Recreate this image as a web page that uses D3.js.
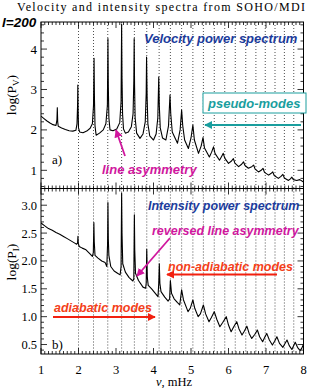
<!DOCTYPE html>
<html>
<head>
<meta charset="utf-8">
<script src="https://cdn.jsdelivr.net/npm/d3@7"></script>
<style>
  body { margin: 0; background: #fff; }
  svg { display: block; }
</style>
</head>
<body>
<div id="chart"></div>
<script>
// mode frequencies (dotted guide lines), mHz
const modeFreqs = [2.0, 2.40, 2.78, 3.15, 3.49, 3.82, 4.15, 4.45, 4.75, 5.05, 5.33, 5.62, 5.90, 6.18, 6.46, 6.73, 6.98, 7.24, 7.49, 7.74];

// velocity spectrum log(Pv)
const velocity = [
  [1.00,2.34],[1.08,2.28],[1.16,2.22],[1.24,2.17],[1.32,2.13],[1.40,2.11],[1.425,2.25],[1.435,2.55],[1.445,2.2],[1.46,2.09],
  [1.55,2.05],[1.65,2.01],[1.75,1.98],[1.85,1.97],[1.93,1.99],[1.96,2.15],[1.975,2.6],[1.982,3.11],[1.99,2.5],[2.00,2.05],
  [2.03,1.95],[2.12,1.93],[2.22,1.97],[2.31,2.04],[2.37,2.15],[2.40,2.6],[2.415,3.77],[2.425,2.8],[2.44,2.1],[2.47,1.87],
  [2.56,1.92],[2.66,2.0],[2.73,2.15],[2.77,2.6],[2.785,4.26],[2.795,3.1],[2.81,2.3],[2.84,2.0],[2.92,1.98],[3.02,2.02],
  [3.10,2.18],[3.135,2.7],[3.15,4.62],[3.16,3.3],[3.175,2.4],[3.20,2.02],[3.25,1.92],[3.33,1.95],[3.41,2.08],[3.455,2.4],
  [3.475,3.2],[3.485,4.26],[3.495,3.1],[3.51,2.3],[3.55,1.92],[3.64,1.79],[3.72,1.9],[3.78,2.2],[3.805,2.9],[3.815,3.80],
  [3.83,2.8],[3.85,2.15],[3.90,1.85],[4.00,1.75],[4.07,1.9],[4.115,2.3],[4.14,3.31],[4.155,2.6],[4.18,2.05],[4.24,1.8],
  [4.33,1.75],[4.40,2.1],[4.44,2.86],[4.46,2.4],[4.50,1.95],[4.64,1.67],[4.71,2.0],[4.75,2.49],[4.78,2.1],[4.83,1.75],
  [4.93,1.54],[5.00,1.8],[5.05,2.12],[5.09,1.75],[5.20,1.42],[5.27,1.6],[5.32,1.81],[5.36,1.55],[5.49,1.33],[5.55,1.45],
  [5.60,1.58],[5.64,1.42],[5.76,1.25],[5.82,1.35],[5.86,1.42],[5.90,1.3],[6.00,1.17],[6.08,1.23],[6.13,1.29],[6.17,1.18],
  [6.27,1.09],[6.35,1.15],[6.40,1.21],[6.44,1.12],[6.53,1.05],[6.62,1.09],[6.67,1.13],[6.71,1.03],[6.80,0.96],[6.87,1.0],
  [6.92,1.05],[6.96,0.95],[7.07,0.88],[7.13,0.92],[7.18,0.96],[7.22,0.87],[7.33,0.80],[7.40,0.85],[7.45,0.90],[7.49,0.81],
  [7.60,0.75],[7.65,0.79],[7.69,0.83],[7.73,0.77],[7.82,0.75],[7.90,0.77],[8.00,0.71]
];

// intensity spectrum log(PI)
const intensity = [
  [1.00,2.68],[1.10,2.63],[1.20,2.58],[1.30,2.55],[1.40,2.51],[1.50,2.48],[1.60,2.44],[1.70,2.40],[1.80,2.36],[1.90,2.32],
  [1.95,2.30],[1.975,2.32],[1.985,2.44],[1.995,2.31],[2.02,2.26],[2.10,2.23],[2.20,2.20],[2.30,2.13],[2.37,2.08],[2.395,2.15],
  [2.41,2.69],[2.42,2.35],[2.44,2.10],[2.52,2.05],[2.62,2.00],[2.71,1.97],[2.755,1.90],[2.775,2.3],[2.785,3.05],[2.795,2.4],
  [2.81,2.10],[2.86,1.90],[2.95,1.82],[3.04,1.78],[3.11,1.75],[3.135,1.9],[3.15,3.22],[3.16,2.5],[3.18,1.95],[3.25,1.80],
  [3.35,1.70],[3.45,1.64],[3.475,1.68],[3.49,2.83],[3.50,2.2],[3.52,1.78],[3.60,1.65],[3.72,1.53],[3.79,1.51],[3.805,1.6],
  [3.82,2.21],[3.835,1.7],[3.86,1.56],[3.95,1.50],[4.07,1.40],[4.12,1.36],[4.14,1.6],[4.155,1.95],[4.17,1.6],[4.20,1.45],
  [4.30,1.35],[4.39,1.28],[4.43,1.32],[4.45,1.65],[4.48,1.42],[4.55,1.32],[4.64,1.25],[4.70,1.21],[4.75,1.48],[4.80,1.3],
  [4.92,1.09],[4.98,1.15],[5.05,1.30],[5.10,1.15],[5.19,1.00],[5.25,1.05],[5.33,1.21],[5.39,1.05],[5.48,0.91],[5.54,0.98],
  [5.62,1.09],[5.69,0.95],[5.77,0.82],[5.85,0.9],[5.94,1.00],[6.00,0.85],[6.07,0.73],[6.14,0.82],[6.22,0.91],[6.28,0.78],
  [6.36,0.67],[6.42,0.74],[6.49,0.83],[6.55,0.70],[6.62,0.61],[6.70,0.68],[6.77,0.76],[6.83,0.64],[6.91,0.55],[6.96,0.62],
  [7.02,0.70],[7.09,0.58],[7.17,0.49],[7.23,0.56],[7.29,0.64],[7.36,0.52],[7.45,0.45],[7.50,0.51],[7.56,0.58],[7.62,0.48],
  [7.69,0.41],[7.73,0.47],[7.78,0.54],[7.84,0.45],[7.91,0.39],[7.96,0.44],[8.00,0.51]
];

const xTickLabels = [1, 2, 3, 4, 5, 6, 7, 8];
const velTickLabels = [1, 2, 3, 4];
const intTickLabels = [0.5, 1.0, 1.5, 2.0, 2.5, 3.0];

const width = 309, height = 388;
const left = 41, right = 303.5;
const top1 = 22, mid = 188.5, bot2 = 354;

const svg = d3.select("#chart").append("svg")
  .attr("width", width).attr("height", height);

const x = d3.scaleLinear().domain([1, 8]).range([left, right]);
const yV = d3.scaleLinear().domain([0.55, 4.67]).range([mid, top1]);
const yI = d3.scaleLinear().domain([0.33, 3.3]).range([bot2, mid]);

const defs = svg.append("defs");
function marker(id, color) {
  defs.append("marker").attr("id", id)
    .attr("viewBox", "0 0 10 10").attr("refX", 9).attr("refY", 5)
    .attr("markerWidth", 4.5).attr("markerHeight", 4.5)
    .attr("orient", "auto")
    .append("path").attr("d", "M0,0 L10,5 L0,10 z").attr("fill", color);
}
marker("mTeal", "#1a9e9e");
marker("mMag", "#d0179e");
marker("mRed", "#f2200f");

const serif = "Liberation Serif, Times New Roman, serif";

// title
svg.append("text").attr("x", 17).attr("y", 11)
  .attr("textLength", 288).attr("lengthAdjust", "spacing")
  .style("font-family", serif)
  .style("font-size", "12px")
  .text("Velocity and intensity spectra from SOHO/MDI");

svg.append("text").attr("x", 2).attr("y", 27)
  .style("font-family", "Liberation Sans, Arial, sans-serif")
  .style("font-size", "13.5px").style("font-weight", "bold").style("font-style", "italic")
  .text("l=200");

function panel(y, data, yMajor, yMinorStep, clipId) {
  const [yb, yt] = y.range();
  defs.append("clipPath").attr("id", clipId)
    .append("rect").attr("x", left).attr("y", yt).attr("width", right - left).attr("height", yb - yt);

  // dotted mode lines
  svg.append("g").selectAll("line").data(modeFreqs).join("line")
    .attr("x1", d => x(d)).attr("x2", d => x(d))
    .attr("y1", yt).attr("y2", yb)
    .attr("stroke", "#222").attr("stroke-width", 0.8)
    .attr("stroke-dasharray", "1,2");

  // spectrum
  svg.append("path").datum(data)
    .attr("clip-path", `url(#${clipId})`)
    .attr("fill", "none").attr("stroke", "#000").attr("stroke-width", 1.1)
    .attr("stroke-linejoin", "round")
    .attr("d", d3.line().x(d => x(d[0])).y(d => y(d[1])));

  // frame
  svg.append("rect").attr("x", left).attr("y", yt)
    .attr("width", right - left).attr("height", yb - yt)
    .attr("fill", "none").attr("stroke", "#000").attr("stroke-width", 1);

  const tg = svg.append("g").attr("stroke", "#000").attr("stroke-width", 0.8);
  // x ticks every 0.1
  d3.range(10, 81).forEach(i => {
    const v = i / 10;
    const len = i % 10 === 0 ? 6 : 3;
    tg.append("line").attr("x1", x(v)).attr("x2", x(v)).attr("y1", yb).attr("y2", yb - len);
    tg.append("line").attr("x1", x(v)).attr("x2", x(v)).attr("y1", yt).attr("y2", yt + len);
  });
  // y ticks
  const [d0, d1] = y.domain();
  const n0 = Math.ceil(d0 / yMinorStep - 1e-6), n1 = Math.floor(d1 / yMinorStep + 1e-6);
  d3.range(n0, n1 + 1).forEach(i => {
    const v = i * yMinorStep;
    const major = yMajor.some(m => Math.abs(m - v) < 1e-6);
    const len = major ? 6 : 3;
    tg.append("line").attr("x1", left).attr("x2", left + len).attr("y1", y(v)).attr("y2", y(v));
    tg.append("line").attr("x1", right).attr("x2", right - len).attr("y1", y(v)).attr("y2", y(v));
  });
}

panel(yV, velocity, velTickLabels, 0.2, "clipV");
panel(yI, intensity, intTickLabels, 0.1, "clipI");

// y tick labels
svg.append("g").selectAll("text").data(velTickLabels).join("text")
  .attr("x", 37).attr("y", d => yV(d) + 4.5)
  .attr("text-anchor", "end")
  .style("font-family", serif).style("font-size", "13px")
  .text(d => d);
svg.append("g").selectAll("text").data(intTickLabels).join("text")
  .attr("x", 37).attr("y", d => yI(d) + 4.5)
  .attr("text-anchor", "end")
  .style("font-family", serif).style("font-size", "12.5px")
  .text(d => d.toFixed(1));

// x tick labels
svg.append("g").selectAll("text").data(xTickLabels).join("text")
  .attr("x", d => x(d)).attr("y", 374)
  .attr("text-anchor", "middle")
  .style("font-family", serif).style("font-size", "12.5px")
  .text(d => d);

svg.append("text").attr("x", 174).attr("y", 386)
  .attr("text-anchor", "middle")
  .style("font-family", serif).style("font-size", "12.5px")
  .html("<tspan font-style='italic'>ν</tspan>,  mHz");

// y axis titles
function yTitle(cx, cy, sub) {
  const t = svg.append("text")
    .attr("transform", `translate(${cx},${cy}) rotate(-90)`)
    .attr("text-anchor", "middle")
    .style("font-family", serif).style("font-size", "13.5px");
  t.append("tspan").text("log(P");
  t.append("tspan").attr("dy", 3).style("font-size", "9px").text(sub);
  t.append("tspan").attr("dy", -3).text(")");
}
yTitle(16, 95, "V");
yTitle(16, 262, "I");

svg.append("text").attr("x", 52).attr("y", 164)
  .style("font-family", serif).style("font-size", "13px").text("a)");
svg.append("text").attr("x", 52).attr("y", 349)
  .style("font-family", serif).style("font-size", "13px").text("b)");

// annotations
function label(tx, ty, str, color, size) {
  svg.append("text").attr("x", tx).attr("y", ty)
    .style("font-family", "Liberation Sans, Arial, sans-serif")
    .style("font-size", size + "px").style("font-weight", "bold").style("font-style", "italic")
    .attr("fill", color).text(str);
}
function arrow(x1, y1, x2, y2, color, id) {
  svg.append("line").attr("x1", x1).attr("y1", y1).attr("x2", x2).attr("y2", y2)
    .attr("stroke", color).attr("stroke-width", 1.8)
    .attr("marker-end", `url(#${id})`);
}

label(144, 43, "Velocity power spectrum", "#1c3c9c", 13);
svg.append("rect").attr("x", 203).attr("y", 93).attr("width", 103).attr("height", 20)
  .attr("fill", "#fff").attr("stroke", "#1a9e9e").attr("stroke-width", 1);
label(208, 108, "pseudo-modes", "#1a9e9e", 13);
arrow(301, 125, 205, 125, "#1a9e9e", "mTeal");

label(102, 174, "line asymmetry", "#d0179e", 13);
arrow(125, 156, 116, 130, "#d0179e", "mMag");

label(148, 210, "Intensity power spectrum", "#1c3c9c", 12.5);
label(152, 235, "reversed line asymmetry", "#d0179e", 12.5);
arrow(170, 238, 137, 276, "#d0179e", "mMag");

label(168, 271, "non-adiabatic modes", "#f4401a", 12.5);
arrow(277, 274.5, 167, 274.5, "#f2200f", "mRed");

label(54, 312, "adiabatic modes", "#f4401a", 12.5);
arrow(53, 317, 155, 317, "#f2200f", "mRed");
</script>
</body>
</html>
